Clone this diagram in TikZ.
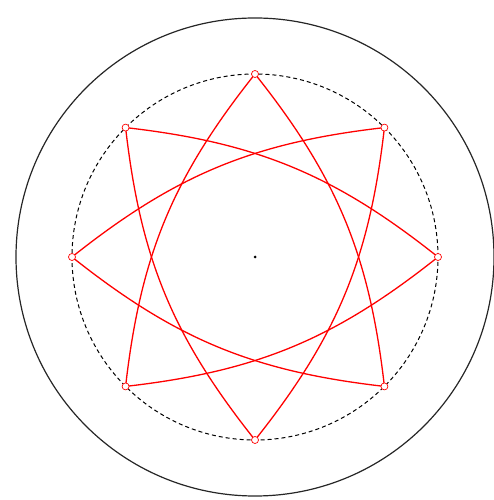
\documentclass[tikz,border=0pt]{standalone}
\begin{document}
\begin{tikzpicture}[x=1pt,y=1pt,
  ptmark/.style={circle,draw=red,fill=white,inner sep=0pt,minimum size=7pt,line width=0.7pt},
  petal/.style={draw=red,line width=1.3pt},
  outer/.style={draw=black!85,line width=1.2pt},
  guide/.style={draw=black,line width=1pt,dash pattern=on 4pt off 3pt}
]
\useasboundingbox (0,0) rectangle (493,500);
\coordinate (O) at (255,243);
\draw[outer] (O) circle (239);
\draw[guide] (O) circle (183);
\fill (O) circle (1.5);
\foreach \i in {0,...,7} \path (O) ++(\i*45:183) coordinate (p\i);
\foreach \i [evaluate=\i as \j using {int(mod(\i+5,8))}] in {0,...,7}
  \draw[petal] (p\i) to[bend left=16] (p\j);
\foreach \i in {0,...,7} \node[ptmark] (n\i) at (p\i) {};
\end{tikzpicture}
\end{document}
